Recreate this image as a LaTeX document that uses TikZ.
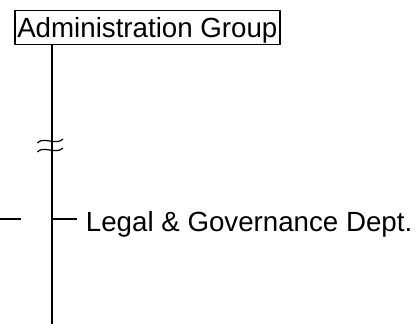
\documentclass[tikz,border=0pt]{standalone}
\usepackage{fontspec}
\setmainfont{Liberation Sans}
\usetikzlibrary{positioning,calc}
\tikzset{
  conn/.style={line width=1.5pt},
  unit/.style={font=\fontsize{27.7}{30}\selectfont, inner sep=0pt},
  breakmark/.style={line width=1.2pt}
}

\begin{document}
\begin{tikzpicture}[x=1pt,y=-1pt, line join=round]
\useasboundingbox (0,0) rectangle (419,324);
\node[unit,draw,line width=1.5pt,anchor=base west,inner xsep=2.5pt,
      text height=26.8pt,text depth=7.2pt] (admin) at (14,37.3) {Administration Group};
\coordinate (bottom) at (52,324);
\coordinate (branch) at (52,219);
\draw[conn] (admin.south -| bottom) -- (bottom);
% break mark on the spine
\draw[breakmark] (37.5,143) .. controls (43,136) and (56,146) .. (63,139);
\draw[breakmark] (37.5,152) .. controls (43,145) and (56,155) .. (63,148);
\node[unit,anchor=base west,inner xsep=8.4pt] (legal) at (77.3,231) {Legal \& Governance Dept.};
\draw[conn] (branch) -- (legal.west |- branch);
\coordinate (stub a) at (0,219);
\coordinate (stub b) at (21,219);
\draw[conn] (stub a) -- (stub b);
\end{tikzpicture}
\end{document}
